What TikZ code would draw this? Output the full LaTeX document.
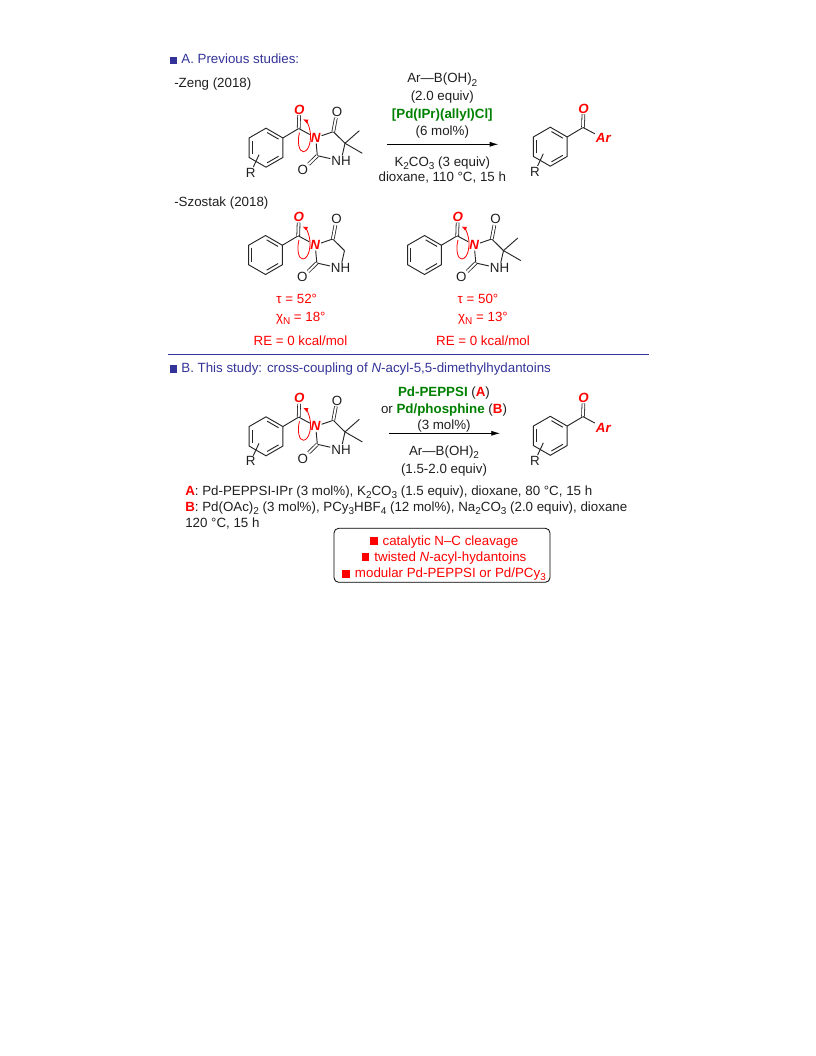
\documentclass[tikz,border=0pt]{standalone}
\usepackage{fontspec}
\setmainfont{Liberation Sans}
\usepackage{xcolor}
\usetikzlibrary{arrows.meta,calc}
\definecolor{headblue}{RGB}{51,51,153}
\definecolor{catgreen}{RGB}{0,128,0}
\newcommand{\headmark}{\textcolor{headblue}{\rule{5.6pt}{5.6pt}}\hspace{3.1pt}}
\newcommand{\redmark}{\textcolor{red}{\rule{5.8pt}{5.8pt}}\hspace{3.8pt}}
\newcommand{\grn}[1]{\textcolor{catgreen}{\textbf{#1}}}
\newcommand{\rdb}[1]{\textcolor{red}{\textbf{#1}}}
\newcommand{\subs}[1]{\raisebox{-2.4pt}{\fontsize{7.5pt}{8pt}\selectfont #1}}
\newcommand{\benzoylcode}{
	\foreach \i/\a in {1/90,2/150,3/210,4/270,5/330,6/30}{
		\coordinate (-v\i) at (\a:19.5);
		\coordinate (-w\i) at (\a:15.8);
	}
	\draw[bond] (-v1) -- (-v2) -- (-v3) -- (-v4) -- (-v5) -- (-v6) -- cycle;
	\draw[bond,shorten >=1pt,shorten <=1pt] (-w2) -- (-w3);
	\draw[bond,shorten >=1pt,shorten <=1pt] (-w4) -- (-w5);
	\draw[bond,shorten >=1pt,shorten <=1pt] (-w6) -- (-w1);
	\coordinate (-cc) at (32.7,-19.2);
	\node[atomred] (-oa) at (33.3,-38.2) {O};
	\draw[bond] (-v5) -- (-cc);
	\draw[dbond] (-cc) -- (-oa);
}
\tikzset{
	x=0.75pt,y=-0.75pt,
	every node/.style={font=\fontsize{10pt}{12pt}\selectfont,text=black!88},
	bond/.style={line width=0.7pt,black!85},
	dbond/.style={line width=0.6pt,black!85,double,double distance=1.5pt},
	atom/.style={inner sep=0.6pt},
	atomred/.style={atom,text=red,font=\fontsize{10pt}{12pt}\selectfont\bfseries\itshape},
	redtext/.style={text=red},
	plain/.style={anchor=base west,inner sep=0pt},
	condition/.style={anchor=base,inner sep=0pt},
	rxn/.style={-{Latex[length=6.5pt,width=3.8pt]},line width=0.6pt,black},
	twist/.style={-{Latex[length=3.8pt,width=3.2pt]},line width=0.6pt,red},
	benzoyl/.pic={\benzoylcode},
	rsub/.pic={
		\node[atom] (-r) at (-15.3,25) {R};
		\coordinate (-m) at (-7,7);
		\draw[bond] (-m) -- (-r);
	},
	gemdimethyl/.pic={
		\coordinate (-c) at (79,-4.4);
		\coordinate (-ma) at (93.3,-17);
		\coordinate (-mb) at (96.3,5.6);
		\draw[bond] (-c) -- (-ma);
		\draw[bond] (-c) -- (-mb);
	},
	hydantoin/.pic={
		\benzoylcode
		\node[atomred] (-n) at (49.7,-10) {N};
		\coordinate (-cd) at (67.3,-16);
		\node[atom] (-od) at (71,-35.7) {O};
		\coordinate (-ce) at (79,-4.4);
		\node[atom] (-nh) at (75,13.3) {NH};
		\coordinate (-cb) at (51.3,8);
		\node[atom] (-ob) at (36.7,22.3) {O};
		\draw[bond] (-cc) -- (-n);
		\draw[bond] (-n) -- (-cd);
		\draw[bond] (-cd) -- (-ce);
		\draw[bond] (-ce) -- (-nh);
		\draw[bond] (-nh) -- (-cb);
		\draw[bond] (-cb) -- (-n);
		\draw[dbond] (-cd) -- (-od);
		\draw[dbond] (-cb) -- (-ob);
		\draw[twist] (33.5,-15) .. controls (31,-6) and (33,4.5) .. (37.5,4)
			.. controls (44,3) and (45.5,-10) .. (44,-17)
			.. controls (43,-23) and (40,-27) .. (37,-28.5);
	}
}
\begin{document}
\begin{tikzpicture}
	\useasboundingbox (0,0) rectangle (816,1056);
	
	% section A
	\node[plain,text=headblue] (heada) at (169.5,64) {\headmark A. Previous studies:};
	\node[plain] (zeng) at (174,88) {-Zeng (2018)};
	
	\pic (zengmol) at (266,147.7) {hydantoin};
	\pic (zengme) at (266,147.7) {gemdimethyl};
	\pic (zengr) at (266,147.7) {rsub};
	
	\node[condition] (ca1) at (442.3,83) {Ar—B(OH)\subs{2}};
	\node[condition] (ca2) at (442.3,100.5) {(2.0 equiv)};
	\node[condition] (ca3) at (442.3,118.5) {\grn{[Pd(IPr)(allyl)Cl]}};
	\node[condition] (ca4) at (442.3,135) {(6 mol\%)};
	\node[condition] (ca5) at (442.3,166) {K\subs{2}CO\subs{3} (3 equiv)};
	\node[condition] (ca6) at (442.3,181.5) {dioxane, 110 °C, 15 h};
	\coordinate (arrowa) at (387.3,144.3);
	\coordinate (arrowb) at (498.3,144.3);
	\draw[rxn] (arrowa) -- (arrowb);
	
	\pic (proda) at (550.3,146.7) {benzoyl};
	\pic (prodar) at (550.3,146.7) {rsub};
	\node[atomred] (ara) at (603.3,138.3) {Ar};
	\draw[bond] (proda-cc) -- (ara);
	
	\node[plain] (szostak) at (174,206.5) {-Szostak (2018)};
	
	\pic (sza) at (265.5,255) {hydantoin};
	\pic (szb) at (424.5,255) {hydantoin};
	\pic (szbme) at (424.5,255) {gemdimethyl};
	
	\node[condition,redtext] (taua) at (296.7,303.5) {τ = 52°};
	\node[condition,redtext] (chia) at (300.8,321.5) {χ\subs{N} = 18°};
	\node[condition,redtext] (rea) at (300.5,345) {RE = 0 kcal/mol};
	\node[condition,redtext] (taub) at (478,303.5) {τ = 50°};
	\node[condition,redtext] (chib) at (483,321.5) {χ\subs{N} = 13°};
	\node[condition,redtext] (reb) at (483,345) {RE = 0 kcal/mol};
	
	\coordinate (linea) at (168,354.5);
	\coordinate (lineb) at (649,354.5);
	\draw[headblue,line width=0.5pt] (linea) -- (lineb);
	
	% section B
	\node[plain,text=headblue] (headb) at (169.5,372.5) {\headmark B. This study: cross-coupling of \textit{N}-acyl-5,5-dimethylhydantoins};
	
	\pic (studymol) at (266,436.3) {hydantoin};
	\pic (studyme) at (266,436.3) {gemdimethyl};
	\pic (studyr) at (266,436.3) {rsub};
	
	\node[condition] (cb1) at (444,396) {\grn{Pd-PEPPSI} (\rdb{A})};
	\node[condition] (cb2) at (444,413) {or \grn{Pd/phosphine} (\rdb{B})};
	\node[condition] (cb3) at (444,429.5) {(3 mol\%)};
	\node[condition] (cb4) at (444,455) {Ar—B(OH)\subs{2}};
	\node[condition] (cb5) at (444,473) {(1.5-2.0 equiv)};
	\coordinate (arrowc) at (389,433.3);
	\coordinate (arrowd) at (500,433.3);
	\draw[rxn] (arrowc) -- (arrowd);
	
	\pic (prodb) at (550.3,435.8) {benzoyl};
	\pic (prodbr) at (550.3,435.8) {rsub};
	\node[atomred] (arb) at (603.3,427.7) {Ar};
	\draw[bond] (prodb-cc) -- (arb);
	
	\node[plain] (conda) at (185,495.5) {\rdb{A}: Pd-PEPPSI-IPr (3 mol\%), K\subs{2}CO\subs{3} (1.5 equiv), dioxane, 80 °C, 15 h};
	\node[plain] (condb) at (185,511) {\rdb{B}: Pd(OAc)\subs{2} (3 mol\%), PCy\subs{3}HBF\subs{4} (12 mol\%), Na\subs{2}CO\subs{3} (2.0 equiv), dioxane};
	\node[plain] (condc) at (185,527) {120 °C, 15 h};
	
	\node[draw=black,line width=0.6pt,rounded corners=3.5pt,minimum width=162pt,minimum height=40.5pt,inner sep=0pt] (features) at (442,555.3) {};
	\node[condition,redtext] (fa) at (444,545) {\redmark catalytic N–C cleavage};
	\node[condition,redtext] (fb) at (444,561) {\redmark twisted \textit{N}-acyl-hydantoins};
	\node[condition,redtext] (fc) at (444,577.5) {\redmark modular Pd-PEPPSI or Pd/PCy\subs{3}};
\end{tikzpicture}
\end{document}
